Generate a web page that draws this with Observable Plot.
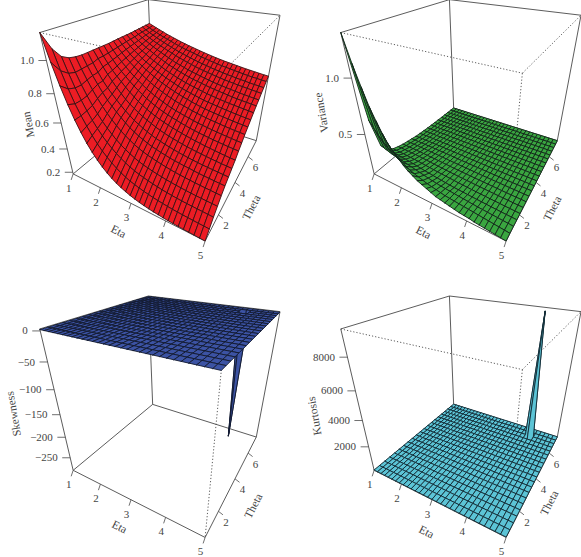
<!DOCTYPE html>
<html><head><meta charset="utf-8">
<script src="https://cdn.jsdelivr.net/npm/d3@7"></script>
<script src="https://cdn.jsdelivr.net/npm/@observablehq/plot@0.6"></script>
<style>html,body{margin:0;background:#fff}svg{display:block}</style></head>
<body><div id="chart"></div>
<script>
const etaValues=[1,1.133,1.267,1.4,1.533,1.667,1.8,1.933,2.067,2.2,2.333,2.467,2.6,2.733,2.867,3,3.133,3.267,3.4,3.533,3.667,3.8,3.933,4.067,4.2,4.333,4.467,4.6,4.733,4.867,5];
const thetaValues=[0.7,1.04,1.38,1.72,2.06,2.4,2.74,3.08,3.42,3.76,4.1,4.44,4.78,5.12,5.46,5.8,6.14,6.48,6.82,7.16,7.5];
const etaTicks=[1,2,3,4,5];
const thetaTicks=[2,4,6];
const meanRows=[
[1.150,.996,.866,.757,.665,.588,.523,.469,.423,.384,.352,.324,.301,.282,.266,.252,.241,.231,.223,.216,.210,.206,.201,.198,.195,.193,.191,.189,.188,.186,.185],
[1.050,.929,.825,.737,.666,.604,.547,.498,.457,.422,.392,.365,.343,.324,.308,.296,.286,.276,.268,.261,.254,.249,.244,.240,.237,.234,.232,.230,.228,.227,.225],
[.990,.894,.809,.736,.673,.617,.568,.525,.488,.456,.429,.404,.383,.365,.350,.337,.327,.318,.309,.302,.295,.290,.285,.281,.278,.275,.273,.271,.269,.267,.265],
[.965,.881,.807,.742,.685,.635,.590,.552,.517,.487,.460,.438,.418,.400,.385,.373,.363,.354,.346,.339,.332,.327,.322,.318,.314,.311,.308,.306,.304,.302,.300],
[.955,.883,.819,.761,.709,.662,.621,.585,.552,.523,.498,.476,.456,.439,.425,.413,.403,.394,.386,.378,.371,.365,.360,.356,.352,.348,.345,.342,.340,.337,.335],
[.950,.886,.828,.777,.727,.683,.648,.615,.584,.555,.529,.508,.489,.474,.459,.446,.436,.426,.418,.410,.403,.398,.393,.389,.384,.379,.376,.373,.370,.367,.365],
[.950,.888,.831,.780,.738,.702,.668,.636,.607,.581,.557,.537,.519,.503,.488,.475,.465,.455,.447,.439,.431,.425,.419,.414,.409,.405,.402,.399,.396,.393,.390],
[.950,.899,.850,.805,.764,.726,.691,.659,.632,.609,.588,.568,.551,.536,.521,.507,.496,.486,.477,.469,.461,.454,.448,.443,.438,.433,.429,.425,.421,.418,.415],
[.950,.900,.855,.814,.779,.748,.716,.687,.661,.637,.616,.597,.580,.565,.551,.539,.528,.518,.509,.500,.492,.485,.478,.472,.466,.461,.456,.451,.447,.443,.440],
[.950,.904,.864,.827,.795,.765,.736,.711,.686,.664,.643,.625,.608,.593,.580,.568,.557,.548,.538,.530,.521,.514,.508,.502,.497,.492,.487,.483,.479,.476,.472],
[.950,.909,.871,.839,.809,.780,.754,.730,.707,.686,.667,.650,.635,.620,.606,.594,.584,.574,.566,.558,.549,.542,.536,.530,.525,.520,.515,.511,.507,.503,.500],
[.952,.914,.881,.850,.823,.798,.774,.751,.730,.711,.693,.677,.662,.648,.635,.623,.613,.604,.595,.586,.578,.571,.565,.559,.554,.549,.544,.540,.536,.533,.530],
[.954,.919,.889,.860,.835,.814,.792,.770,.752,.733,.716,.701,.688,.674,.662,.650,.639,.630,.620,.611,.603,.596,.590,.585,.580,.575,.571,.566,.562,.559,.555],
[.955,.925,.896,.871,.849,.825,.805,.786,.768,.751,.736,.721,.708,.695,.682,.671,.662,.652,.644,.636,.627,.621,.616,.610,.605,.600,.595,.591,.587,.583,.580],
[.956,.928,.903,.880,.859,.839,.820,.803,.786,.770,.754,.741,.728,.716,.705,.695,.686,.677,.669,.661,.653,.647,.641,.635,.630,.625,.621,.617,.613,.609,.605],
[.957,.932,.910,.890,.870,.854,.836,.819,.804,.788,.774,.762,.749,.738,.728,.717,.708,.701,.693,.685,.678,.672,.666,.661,.655,.649,.645,.641,.637,.634,.630],
[.960,.938,.918,.900,.882,.864,.849,.834,.819,.805,.791,.778,.767,.757,.746,.737,.729,.720,.712,.705,.697,.691,.686,.680,.675,.670,.665,.661,.657,.653,.650],
[.962,.943,.925,.908,.892,.877,.863,.849,.837,.824,.811,.800,.789,.779,.769,.759,.751,.743,.736,.729,.722,.716,.710,.705,.700,.695,.691,.687,.683,.679,.675],
[.965,.947,.931,.916,.901,.887,.874,.861,.849,.837,.825,.816,.806,.796,.787,.778,.770,.763,.755,.748,.742,.736,.730,.725,.720,.715,.711,.706,.702,.699,.695],
[.967,.951,.936,.923,.910,.897,.886,.875,.863,.853,.843,.833,.825,.817,.808,.800,.793,.785,.778,.772,.765,.760,.755,.749,.744,.739,.734,.730,.727,.723,.720],
[.970,.957,.944,.932,.920,.908,.897,.887,.877,.867,.858,.849,.841,.833,.825,.817,.810,.803,.796,.790,.784,.779,.774,.769,.764,.759,.755,.751,.747,.743,.740]];
const varianceRows=[
[1.33,1.12,.95,.80,.69,.59,.51,.45,.40,.35,.31,.28,.25,.23,.21,.19,.17,.16,.15,.14,.13,.12,.115,.11,.10,.095,.09,.085,.08,.075,.07],
[.60,.54,.48,.43,.39,.35,.32,.29,.265,.245,.225,.21,.195,.18,.17,.16,.15,.14,.135,.13,.125,.12,.115,.11,.105,.10,.095,.09,.085,.08,.075],
[.30,.285,.27,.255,.245,.235,.225,.215,.205,.195,.185,.175,.165,.155,.148,.14,.135,.13,.125,.12,.115,.11,.105,.10,.097,.093,.09,.086,.083,.08,.075],
[.21,.205,.20,.195,.19,.185,.18,.172,.165,.158,.15,.144,.138,.132,.126,.12,.115,.11,.107,.104,.10,.097,.094,.091,.088,.085,.083,.08,.078,.076,.074],
[.17,.168,.165,.163,.16,.157,.153,.149,.145,.14,.135,.13,.126,.122,.118,.114,.11,.106,.103,.10,.097,.094,.091,.089,.086,.084,.082,.079,.077,.075,.073],
[.15,.149,.148,.146,.144,.142,.139,.136,.132,.128,.124,.12,.117,.113,.11,.107,.104,.101,.098,.096,.093,.091,.088,.086,.084,.082,.08,.078,.076,.074,.073],
[.135,.134,.133,.132,.13,.128,.126,.123,.12,.118,.115,.112,.109,.106,.103,.101,.098,.096,.094,.092,.09,.088,.086,.084,.082,.08,.078,.076,.075,.074,.072],
[.125,.124,.123,.122,.12,.118,.116,.114,.112,.11,.107,.105,.102,.1,.098,.096,.094,.092,.09,.088,.086,.085,.083,.082,.08,.079,.077,.076,.075,.073,.072],
[.115,.114,.113,.112,.111,.109,.108,.106,.104,.103,.101,.099,.097,.095,.093,.092,.09,.088,.087,.085,.084,.082,.081,.08,.078,.077,.076,.075,.074,.073,.072],
[.105,.105,.104,.103,.102,.101,.1,.099,.098,.096,.095,.094,.092,.091,.09,.088,.087,.086,.084,.083,.082,.081,.08,.078,.077,.076,.075,.074,.073,.072,.071],
[.10,.099,.099,.098,.097,.096,.095,.094,.093,.092,.091,.09,.089,.088,.086,.085,.084,.083,.082,.081,.08,.079,.078,.077,.076,.075,.074,.074,.073,.072,.071],
[.095,.095,.094,.094,.093,.092,.091,.09,.09,.089,.088,.087,.086,.085,.084,.083,.082,.081,.08,.079,.078,.078,.077,.076,.075,.074,.074,.073,.072,.072,.071],
[.09,.09,.09,.089,.088,.088,.087,.086,.086,.085,.084,.083,.083,.082,.081,.08,.08,.079,.078,.077,.077,.076,.075,.075,.074,.073,.073,.072,.072,.071,.071],
[.087,.087,.086,.086,.085,.085,.084,.084,.083,.083,.082,.081,.081,.08,.08,.079,.078,.078,.077,.076,.076,.075,.075,.074,.074,.073,.073,.072,.072,.071,.071],
[.084,.084,.083,.083,.083,.082,.082,.081,.081,.08,.08,.079,.079,.078,.078,.077,.077,.076,.076,.075,.075,.074,.074,.073,.073,.072,.072,.072,.071,.071,.071],
[.082,.081,.081,.081,.08,.08,.08,.079,.079,.078,.078,.078,.077,.077,.076,.076,.075,.075,.075,.074,.074,.074,.073,.073,.072,.072,.072,.071,.071,.071,.07],
[.079,.079,.079,.078,.078,.078,.078,.077,.077,.077,.076,.076,.076,.075,.075,.075,.074,.074,.074,.073,.073,.073,.072,.072,.072,.072,.071,.071,.071,.071,.07],
[.077,.077,.077,.076,.076,.076,.076,.076,.075,.075,.075,.075,.074,.074,.074,.074,.073,.073,.073,.073,.072,.072,.072,.072,.071,.071,.071,.071,.071,.07,.07],
[.075,.075,.075,.075,.075,.074,.074,.074,.074,.074,.073,.073,.073,.073,.073,.072,.072,.072,.072,.072,.071,.071,.071,.071,.071,.071,.07,.07,.07,.07,.07],
[.073,.073,.073,.073,.073,.073,.072,.072,.072,.072,.072,.072,.072,.071,.071,.071,.071,.071,.071,.071,.071,.07,.07,.07,.07,.07,.07,.07,.07,.07,.07],
[.07,.07,.07,.07,.07,.07,.07,.07,.07,.07,.07,.07,.07,.07,.07,.07,.07,.07,.07,.07,.07,.07,.07,.07,.07,.07,.07,.07,.07,.07,.07]];
// Skewness and kurtosis read as one flat level with a single extreme grid point.
const skewnessLevel=2, skewnessSpike=-283;
const kurtosisLevel=30, kurtosisSpike=9490;
const spikeEta=4.2, spikeTheta=6.82;
const flatRows=(level,spike)=>thetaValues.map(t=>etaValues.map(e=>e===spikeEta&&t===spikeTheta?spike:level));

// Box corners on the page (u = eta, v = theta, w = value, each 0..1), for the fitted perspective view
const viewCorners=[[0,0,0,72.7,173.3],[1,0,0,204,240.7],[1,1,0,256,140],[0,1,0,152.3,107.6],
  [0,0,1,39.3,32.3],[1,0,1,221.7,72.3],[1,1,1,279.3,15],[0,1,1,147.7,-1.1]];
function fitView(c){
  const A=[],b=[];
  for(const [u,v,w,x,y] of c){
    A.push([u,v,w,1,0,0,0,0,-x*u,-x*v,-x*w]);b.push(x);
    A.push([0,0,0,0,u,v,w,1,-y*u,-y*v,-y*w]);b.push(y);
  }
  const n=11,M=d3.range(n).map(i=>d3.range(n+1).map(j=>d3.sum(A,(r,k)=>r[i]*(j<n?r[j]:b[k]))));
  for(let i=0;i<n;i++){
    let p=i;for(let r=i;r<n;r++)if(Math.abs(M[r][i])>Math.abs(M[p][i]))p=r;
    [M[i],M[p]]=[M[p],M[i]];
    for(let r=0;r<n;r++)if(r!==i){const f=M[r][i]/M[i][i];for(let j=i;j<=n;j++)M[r][j]-=f*M[i][j];}
  }
  return M.map((r,i)=>r[n]/r[i]);
}
const view=fitView(viewCorners);
function project(u,v,w){
  const d=view[8]*u+view[9]*v+view[10]*w+1;
  return [(view[0]*u+view[1]*v+view[2]*w+view[3])/d,(view[4]*u+view[5]*v+view[6]*w+view[7])/d];
}
const inkFont="Liberation Serif";
const panels=[
 {name:"Mean",rows:meanRows,zlim:[.185,1.15],zTicks:[.2,.4,.6,.8,1],zLabels:["0.2","0.4","0.6","0.8","1.0"],fill:"#ec1c24",edge:"#3a1214",dx:0,dy:0,zt:[28,124],et:[118,231],tt:[251,207]},
 {name:"Variance",rows:varianceRows,zlim:[.07,1.33],zTicks:[.5,1],zLabels:["0.5","1.0"],fill:"#3aa640",edge:"#12261a",dx:301,dy:0,zt:[20,112],et:[122,232],tt:[251,208]},
 {name:"Skewness",rows:flatRows(skewnessLevel,skewnessSpike),zlim:[skewnessSpike,3],zTicks:[0,-50,-100,-150,-200,-250],zLabels:["0","−50","−100","−150","−200","−250"],fill:"#3c53a4",edge:"#121a30",dx:0,dy:296.4,zt:[13,117],et:[119,230],tt:[253,209]},
 {name:"Kurtosis",rows:flatRows(kurtosisLevel,kurtosisSpike),zlim:[0,kurtosisSpike],zTicks:[2000,4000,6000,8000],zLabels:["2000","4000","6000","8000"],fill:"#5cc4d6",edge:"#122a34",dx:301,dy:296.4,zt:[13,119],et:[125,235],tt:[248,206]}
];
const uOf=e=>(e-etaValues[0])/(etaValues[30]-etaValues[0]);
const vOf=t=>(t-thetaValues[0])/(thetaValues[20]-thetaValues[0]);
const common={x:"x",y:"y"};
function panelMarks(p){
  const at=(u,v,w)=>{const [x,y]=project(u,v,w);return {x:x+p.dx,y:y+p.dy};};
  const wOf=z=>(z-p.zlim[0])/(p.zlim[1]-p.zlim[0]);
  const seg=(a,b)=>{const s=at(...a),t=at(...b);return {x1:s.x,y1:s.y,x2:t.x,y2:t.y};};
  const solid=[[[0,0,1],[0,1,1]],[[0,1,1],[1,1,1]],[[0,0,1],[0,0,0]],[[0,0,0],[1,0,0]],[[1,0,0],[1,1,0]],[[1,1,0],[1,1,1]],[[0,1,1],[0,1,0]],[[0,1,0],[0,0,0]],[[0,1,0],[1,1,0]]].map(s=>seg(...s));
  const dotted=[[[0,0,1],[1,0,1]],[[1,0,1],[1,1,1]],[[1,0,1],[1,0,0]]].map(s=>seg(...s));
  const cells=[];let id=0;
  for(let r=thetaValues.length-2;r>=0;r--)for(let c=0;c<etaValues.length-1;c++){
    for(const [i,j] of [[r,c],[r,c+1],[r+1,c+1],[r+1,c],[r,c]]){
      cells.push({cell:id,...at(uOf(etaValues[j]),vOf(thetaValues[i]),wOf(p.rows[i][j]))});
    }
    id++;
  }
  const link=(rows,o)=>Plot.link(rows,{x1:"x1",y1:"y1",x2:"x2",y2:"y2",stroke:"#4a4a4a",...o});
  const off=(o,dx,dy)=>({x:o.x+dx,y:o.y+dy});
  const etaT=etaTicks.map(e=>({o:at(uOf(e),0,0),label:String(e)}));
  const thetaT=thetaTicks.map(t=>({o:at(1,vOf(t),0),label:String(t)}));
  const zT=p.zTicks.map((z,i)=>({o:at(0,0,wOf(z)),label:p.zLabels[i]}));
  const tickRows=[
    ...etaT.map(t=>({x1:t.o.x,y1:t.o.y,x2:t.o.x-2,y2:t.o.y+6})),
    ...thetaT.map(t=>({x1:t.o.x,y1:t.o.y,x2:t.o.x+4.5,y2:t.o.y+3.5})),
    ...zT.map(t=>({x1:t.o.x,y1:t.o.y,x2:t.o.x-8,y2:t.o.y}))
  ];
  const txt={fontFamily:inkFont,fill:"#444",fontSize:11};
  const tl=[...etaT.map(t=>({...off(t.o,-4.5,14.5),label:t.label})),...thetaT.map(t=>({...off(t.o,7.5,11),label:t.label}))];
  const zl=zT.map(t=>({...off(t.o,-12.5,0),label:t.label}));
  return [
    link(solid,{strokeWidth:.9}),
    link(dotted,{strokeWidth:.9,strokeDasharray:"1.2,2"}),
    Plot.line(cells,{...common,z:"cell",fill:p.fill,stroke:p.edge,strokeWidth:.9,strokeLinejoin:"round"}),
    link(tickRows,{strokeWidth:.8}),
    Plot.text(tl,{...common,text:"label",...txt}),
    Plot.text(zl,{...common,text:"label",textAnchor:"end",...txt}),
    Plot.text([{x:p.zt[0]+p.dx,y:p.zt[1]+p.dy,label:p.name}],{...common,text:"label",rotate:-100,...txt,fontSize:11.5}),
    Plot.text([{x:p.et[0]+p.dx,y:p.et[1]+p.dy,label:"Eta"}],{...common,text:"label",rotate:27,...txt,fontSize:11.5}),
    Plot.text([{x:p.tt[0]+p.dx,y:p.tt[1]+p.dy,label:"Theta"}],{...common,text:"label",rotate:-63,...txt,fontSize:11.5})
  ];
}
const chart=Plot.plot({width:581,height:557,margin:0,
  x:{domain:[0,581],range:[0,581],axis:null},
  y:{domain:[0,557],range:[0,557],axis:null},
  marks:panels.flatMap(panelMarks)});
document.getElementById("chart").append(chart);
</script></body></html>
